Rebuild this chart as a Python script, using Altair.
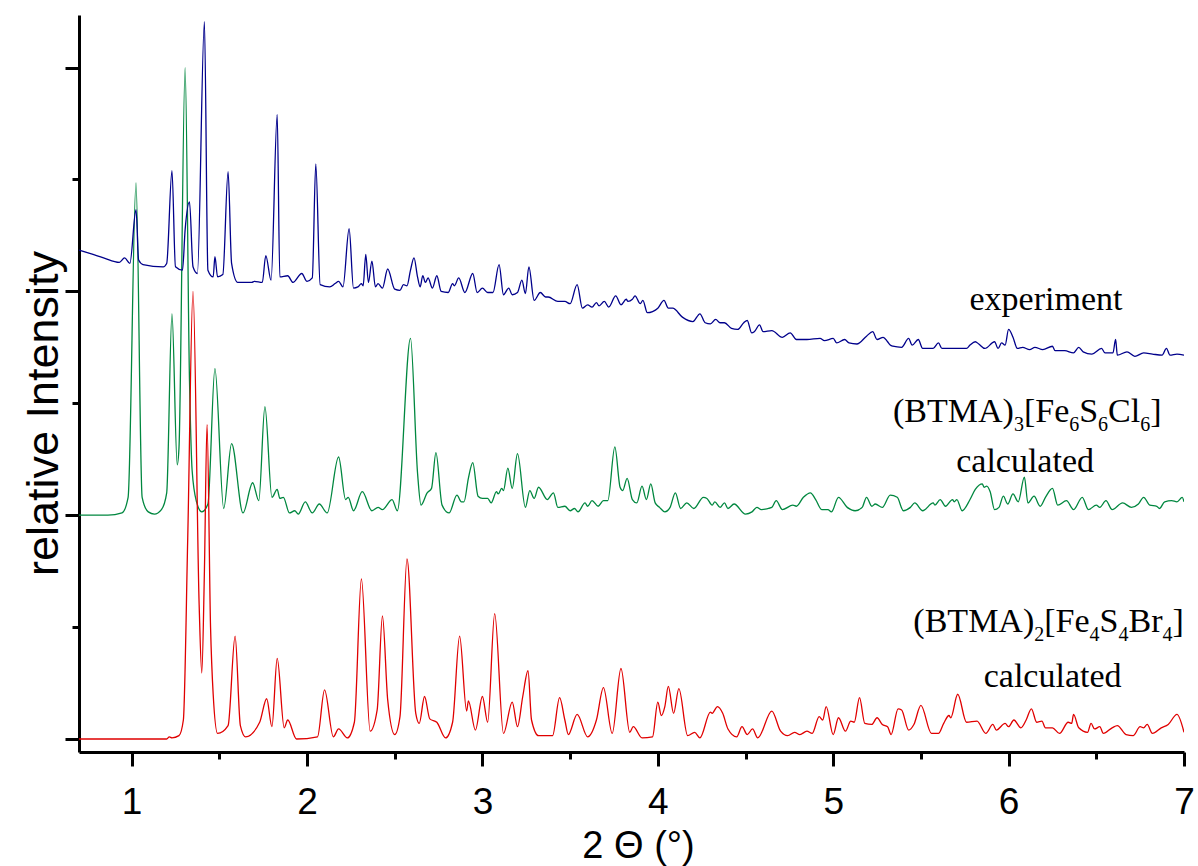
import altair as alt
import pandas as pd

# ---------------- data (2-theta in degrees, stacked relative intensity) ----------------
experiment_pts = [(0.70,4.37),(0.78,4.33),(0.84,4.30),(0.93,4.26),(0.96,4.30),(0.99,4.25),(1.025,4.73),(1.04,4.28),(1.065,4.24),(1.18,4.22),(1.20,4.25),(1.23,5.08),(1.25,4.22),(1.29,4.19),(1.305,4.55),(1.33,4.80),(1.35,4.22),(1.375,4.16),(1.415,6.41),(1.435,4.19),(1.465,4.13),(1.475,4.31),(1.49,4.13),(1.52,4.15),(1.55,5.07),(1.57,4.25),(1.605,4.08),(1.685,4.08),(1.70,4.09),(1.745,4.08),(1.765,4.32),(1.795,4.10),(1.83,5.58),(1.845,4.13),(1.89,4.14),(1.92,4.08),(1.97,4.16),(2.00,4.09),(2.03,4.12),(2.05,5.14),(2.075,4.06),(2.13,4.04),(2.16,4.07),(2.18,4.09),(2.205,4.04),(2.24,4.56),(2.265,4.03),(2.29,4.04),(2.31,4.07),(2.32,4.05),(2.335,4.33),(2.35,4.08),(2.37,4.27),(2.39,4.04),(2.405,4.07),(2.43,4.03),(2.46,4.20),(2.50,4.02),(2.53,4.01),(2.55,4.06),(2.57,4.05),(2.59,4.19),(2.61,4.30),(2.63,4.13),(2.645,4.04),(2.66,4.14),(2.675,4.08),(2.69,4.12),(2.715,4.03),(2.74,4.14),(2.765,4.00),(2.805,3.99),(2.83,4.07),(2.84,4.05),(2.865,4.12),(2.90,3.99),(2.945,4.16),(2.97,3.99),(3.00,4.03),(3.03,3.99),(3.06,3.99),(3.095,4.24),(3.12,3.97),(3.15,4.03),(3.17,3.97),(3.20,3.99),(3.225,4.10),(3.245,3.98),(3.265,4.22),(3.295,3.92),(3.33,3.99),(3.36,3.95),(3.375,3.95),(3.43,3.91),(3.47,3.91),(3.50,3.89),(3.54,4.06),(3.57,3.85),(3.60,3.88),(3.625,3.86),(3.65,3.90),(3.665,3.87),(3.695,3.91),(3.72,3.86),(3.76,3.96),(3.79,3.88),(3.82,3.93),(3.83,3.91),(3.855,3.93),(3.87,3.96),(3.90,3.89),(3.915,3.92),(3.94,3.81),(3.97,3.82),(4.00,3.85),(4.035,3.92),(4.06,3.85),(4.085,3.85),(4.14,3.77),(4.20,3.73),(4.24,3.80),(4.27,3.72),(4.30,3.71),(4.33,3.75),(4.355,3.72),(4.38,3.72),(4.42,3.67),(4.455,3.66),(4.49,3.72),(4.51,3.74),(4.535,3.63),(4.55,3.64),(4.58,3.70),(4.60,3.64),(4.65,3.65),(4.71,3.59),(4.755,3.63),(4.79,3.57),(4.85,3.57),(4.925,3.58),(4.95,3.56),(5.00,3.58),(5.02,3.54),(5.065,3.57),(5.09,3.54),(5.135,3.53),(5.19,3.60),(5.225,3.64),(5.25,3.57),(5.285,3.59),(5.31,3.55),(5.325,3.52),(5.34,3.51),(5.39,3.50),(5.43,3.58),(5.45,3.52),(5.485,3.57),(5.51,3.49),(5.57,3.49),(5.60,3.54),(5.62,3.49),(5.68,3.49),(5.76,3.49),(5.78,3.52),(5.81,3.55),(5.83,3.53),(5.865,3.49),(5.92,3.55),(5.94,3.49),(5.96,3.54),(5.98,3.52),(6.00,3.66),(6.025,3.59),(6.05,3.49),(6.08,3.50),(6.12,3.48),(6.15,3.50),(6.195,3.48),(6.25,3.51),(6.265,3.47),(6.32,3.47),(6.37,3.45),(6.40,3.50),(6.425,3.46),(6.475,3.44),(6.53,3.49),(6.55,3.45),(6.595,3.45),(6.61,3.57),(6.62,3.43),(6.675,3.46),(6.72,3.42),(6.77,3.45),(6.82,3.44),(6.875,3.43),(6.90,3.49),(6.92,3.43),(6.96,3.44),(7.00,3.43)]

fe6_pts = [(0.70,2.00),(0.865,2.00),(0.945,2.02),(0.98,2.16),(1.025,4.97),(1.06,2.16),(1.095,2.03),(1.13,2.01),(1.17,2.05),(1.20,2.20),(1.23,3.80),(1.26,2.45),(1.27,2.60),(1.305,6.00),(1.33,3.20),(1.345,2.40),(1.37,2.12),(1.40,2.03),(1.435,2.10),(1.475,3.31),(1.525,2.06),(1.57,2.64),(1.635,2.02),(1.69,2.29),(1.725,2.13),(1.76,2.97),(1.80,2.16),(1.83,2.23),(1.845,2.15),(1.865,2.16),(1.90,2.02),(1.93,2.04),(1.95,2.01),(1.99,2.12),(2.03,2.02),(2.07,2.10),(2.115,2.02),(2.18,2.52),(2.22,2.14),(2.235,2.16),(2.265,2.04),(2.315,2.21),(2.37,2.04),(2.405,2.07),(2.43,2.05),(2.485,2.14),(2.515,2.04),(2.59,3.58),(2.63,2.38),(2.65,2.09),(2.685,2.20),(2.71,2.24),(2.735,2.56),(2.77,2.09),(2.81,2.02),(2.855,2.18),(2.88,2.12),(2.895,2.12),(2.92,2.33),(2.945,2.47),(2.975,2.17),(3.00,2.15),(3.03,2.15),(3.05,2.11),(3.08,2.21),(3.09,2.19),(3.11,2.24),(3.12,2.22),(3.145,2.42),(3.17,2.24),(3.20,2.55),(3.245,2.07),(3.27,2.22),(3.295,2.15),(3.32,2.25),(3.37,2.14),(3.405,2.20),(3.43,2.07),(3.47,2.08),(3.50,2.04),(3.525,2.06),(3.545,2.03),(3.585,2.11),(3.60,2.08),(3.625,2.13),(3.66,2.08),(3.69,2.13),(3.715,2.13),(3.755,2.61),(3.785,2.25),(3.80,2.22),(3.825,2.33),(3.855,2.14),(3.88,2.11),(3.91,2.26),(3.935,2.14),(3.96,2.28),(3.985,2.11),(4.01,2.07),(4.04,2.03),(4.07,2.07),(4.10,2.20),(4.13,2.06),(4.165,2.11),(4.205,2.06),(4.26,2.16),(4.28,2.15),(4.31,2.09),(4.325,2.12),(4.355,2.07),(4.38,2.11),(4.40,2.06),(4.435,2.10),(4.50,2.01),(4.537,2.03),(4.565,2.07),(4.59,2.05),(4.65,2.07),(4.675,2.13),(4.71,2.05),(4.77,2.09),(4.79,2.08),(4.83,2.16),(4.87,2.20),(4.90,2.14),(4.935,2.05),(4.97,2.05),(4.99,2.03),(5.03,2.16),(5.08,2.07),(5.125,2.04),(5.165,2.07),(5.19,2.16),(5.22,2.08),(5.24,2.10),(5.28,2.07),(5.325,2.18),(5.365,2.16),(5.40,2.04),(5.44,2.07),(5.465,2.11),(5.51,2.04),(5.57,2.11),(5.58,2.09),(5.61,2.14),(5.64,2.08),(5.68,2.14),(5.69,2.12),(5.705,2.14),(5.735,2.04),(5.78,2.14),(5.81,2.23),(5.85,2.28),(5.86,2.25),(5.875,2.26),(5.895,2.21),(5.92,2.05),(5.945,2.07),(5.97,2.17),(5.995,2.10),(6.025,2.19),(6.055,2.12),(6.09,2.34),(6.11,2.11),(6.145,2.17),(6.18,2.08),(6.21,2.16),(6.25,2.24),(6.28,2.09),(6.33,2.13),(6.37,2.05),(6.42,2.16),(6.455,2.05),(6.50,2.09),(6.52,2.07),(6.555,2.13),(6.59,2.05),(6.65,2.11),(6.70,2.07),(6.74,2.10),(6.77,2.16),(6.805,2.09),(6.845,2.08),(6.86,2.06),(6.89,2.12),(6.93,2.13),(6.96,2.12),(6.99,2.16),(7.00,2.12)]

fe4_pts = [(0.70,0.00),(1.20,0.00),(1.215,0.02),(1.23,0.01),(1.27,0.03),(1.295,0.17),(1.32,1.80),(1.35,4.00),(1.385,1.20),(1.40,0.59),(1.415,1.50),(1.43,2.81),(1.45,1.00),(1.465,0.40),(1.49,0.05),(1.55,0.12),(1.59,0.92),(1.62,0.12),(1.65,0.02),(1.73,0.15),(1.77,0.36),(1.80,0.11),(1.83,0.72),(1.87,0.10),(1.89,0.17),(1.94,0.00),(2.06,0.02),(2.10,0.44),(2.15,0.02),(2.18,0.09),(2.23,0.01),(2.27,0.15),(2.31,1.43),(2.36,0.07),(2.40,0.26),(2.43,1.10),(2.46,0.35),(2.50,0.04),(2.53,0.20),(2.57,1.61),(2.62,0.23),(2.64,0.14),(2.67,0.38),(2.70,0.18),(2.74,0.15),(2.79,0.01),(2.83,0.15),(2.87,0.92),(2.91,0.25),(2.92,0.34),(2.96,0.08),(3.00,0.38),(3.03,0.15),(3.07,1.12),(3.12,0.05),(3.17,0.33),(3.20,0.11),(3.23,0.38),(3.26,0.61),(3.28,0.17),(3.32,0.03),(3.40,0.03),(3.44,0.37),(3.47,0.17),(3.49,0.04),(3.54,0.22),(3.60,0.02),(3.65,0.17),(3.69,0.46),(3.74,0.05),(3.79,0.63),(3.84,0.06),(3.86,0.11),(3.91,0.01),(3.97,0.02),(4.00,0.33),(4.02,0.21),(4.04,0.29),(4.06,0.47),(4.09,0.23),(4.12,0.45),(4.17,0.03),(4.21,0.06),(4.24,0.01),(4.30,0.24),(4.31,0.23),(4.34,0.29),(4.37,0.23),(4.40,0.09),(4.45,0.02),(4.48,0.11),(4.51,0.04),(4.54,0.09),(4.57,0.01),(4.65,0.25),(4.70,0.07),(4.74,0.03),(4.78,0.06),(4.81,0.04),(4.85,0.07),(4.88,0.05),(4.92,0.20),(4.94,0.17),(4.96,0.29),(5.00,0.04),(5.03,0.19),(5.07,0.07),(5.10,0.16),(5.12,0.15),(5.15,0.37),(5.18,0.14),(5.22,0.13),(5.25,0.19),(5.28,0.13),(5.31,0.11),(5.33,0.04),(5.37,0.27),(5.39,0.26),(5.43,0.08),(5.46,0.13),(5.50,0.30),(5.56,0.05),(5.60,0.05),(5.63,0.14),(5.66,0.21),(5.67,0.19),(5.71,0.40),(5.76,0.15),(5.82,0.16),(5.87,0.05),(5.91,0.13),(5.93,0.08),(5.98,0.14),(6.00,0.11),(6.03,0.17),(6.07,0.10),(6.10,0.17),(6.13,0.27),(6.16,0.15),(6.19,0.16),(6.21,0.10),(6.25,0.10),(6.29,0.05),(6.34,0.15),(6.36,0.14),(6.37,0.22),(6.40,0.10),(6.45,0.06),(6.47,0.14),(6.49,0.09),(6.52,0.11),(6.54,0.05),(6.59,0.10),(6.62,0.12),(6.67,0.04),(6.71,0.03),(6.75,0.11),(6.77,0.10),(6.79,0.13),(6.82,0.05),(6.87,0.10),(6.91,0.13),(6.96,0.22),(7.00,0.06)]

series_names = ["experiment", "Fe6S6Cl6 calc", "Fe4S4Br4 calc"]
series_colors = ["#00008B", "#00873F", "#E00000"]

x_domain = [0.7, 7.0]
y_domain = [-0.116, 6.47]
x_major = [1, 2, 3, 4, 5, 6, 7]
x_minor = [1.5, 2.5, 3.5, 4.5, 5.5, 6.5]
y_major = [0, 2, 4, 6]
y_minor = [1, 3, 5]

word_labels = ["experiment", "calculated", "calculated"]
word_x = [6.213, 6.094, 6.251]
word_y = [3.834, 2.389, 0.467]

formula_cl = [("(BTMA)", False), ("3", True), ("[Fe", False), ("6", True), ("S", False),
              ("6", True), ("Cl", False), ("6", True), ("]", False)]
formula_br = [("(BTMA)", False), ("2", True), ("[Fe", False), ("4", True), ("S", False),
              ("4", True), ("Br", False), ("4", True), ("]", False)]
formula_anchor_x = [5.341, 5.457]
formula_anchor_y = [2.833, 0.959]

# ---------------- build ----------------
def frame(points, name):
    return pd.DataFrame({"two_theta": [p[0] for p in points],
                         "intensity": [p[1] for p in points],
                         "series": name})

data = pd.concat([frame(experiment_pts, series_names[0]),
                  frame(fe6_pts, series_names[1]),
                  frame(fe4_pts, series_names[2])], ignore_index=True)

x_scale = alt.Scale(domain=x_domain, nice=False, zero=False)
y_scale = alt.Scale(domain=y_domain, nice=False, zero=False)
color_scale = alt.Scale(domain=series_names, range=series_colors)

SANS = "Liberation Sans"
SERIF = "Liberation Serif"
common = dict(grid=False, domainColor="black", tickColor="black", domainWidth=3, tickWidth=3)

x_major_axis = alt.Axis(values=x_major, orient="bottom", tickSize=14, format="d",
                        labelFont=SANS, labelFontSize=37, labelColor="black",
                        labelBaseline="alphabetic", labelPadding=47, labelFlush=False,
                        labelOverlap=False,
                        title="2 Θ (°)", titleFont=SANS, titleFontSize=38,
                        titleFontWeight="normal", titleColor="black",
                        titleX=559, titleY=105, titleAlign="center",
                        titleBaseline="alphabetic", **common)
x_minor_axis = alt.Axis(values=x_minor, orient="bottom", tickSize=7, labels=False,
                        domain=False, title=None, grid=False, tickColor="black", tickWidth=3)
y_major_axis = alt.Axis(values=y_major, orient="left", tickSize=14, labels=False,
                        title="relative Intensity", titleFont=SANS, titleFontSize=45,
                        titleFontWeight="normal", titleColor="black", titleAngle=270,
                        titleX=-22, titleY=398, titleAlign="center",
                        titleBaseline="alphabetic", **common)
y_minor_axis = alt.Axis(values=y_minor, orient="left", tickSize=7, labels=False,
                        domain=False, title=None, grid=False, tickColor="black", tickWidth=3)

base = alt.Chart(data)

def line(name, xaxis, yaxis):
    return base.transform_filter(alt.datum.series == name).mark_line(
        strokeWidth=1.3, clip=True, interpolate="monotone").encode(
        x=alt.X("two_theta:Q", scale=x_scale, axis=xaxis),
        y=alt.Y("intensity:Q", scale=y_scale, axis=yaxis),
        color=alt.Color("series:N", scale=color_scale, legend=None))

green = line(series_names[1], x_minor_axis, y_minor_axis)
red = line(series_names[2], None, None)
blue = line(series_names[0], x_major_axis, y_major_axis)

words = alt.Chart(pd.DataFrame({"x": word_x, "y": word_y, "t": word_labels})).mark_text(
    align="center", baseline="alphabetic", font=SERIF, fontSize=34, color="black").encode(
    x=alt.X("x:Q", scale=x_scale, axis=None),
    y=alt.Y("y:Q", scale=y_scale, axis=None),
    text="t:N")

TIMES_W = {"(": 0.333, ")": 0.333, "B": 0.667, "T": 0.611, "M": 0.889, "A": 0.722,
           "[": 0.333, "]": 0.333, "F": 0.556, "e": 0.444, "S": 0.556, "C": 0.667,
           "l": 0.278, "r": 0.333}
MAIN, SUB = 34, 20

def formula_layers(pieces, ax, ay):
    layers = []
    off = 0.0
    for txt, is_sub in pieces:
        size = SUB if is_sub else MAIN
        kw = dict(align="left", baseline="alphabetic", font=SERIF, fontSize=size,
                  color="black")
        if off > 0:
            kw["dx"] = round(off, 1)
        if is_sub:
            kw["dy"] = 9
        layers.append(alt.Chart(pd.DataFrame({"x": [ax], "y": [ay], "t": [txt]})).mark_text(**kw).encode(
            x=alt.X("x:Q", scale=x_scale, axis=None),
            y=alt.Y("y:Q", scale=y_scale, axis=None),
            text="t:N"))
        off += sum(TIMES_W.get(c, 0.5) for c in txt) * size
    return layers

text_layers = (formula_layers(formula_cl, formula_anchor_x[0], formula_anchor_y[0]) +
               formula_layers(formula_br, formula_anchor_x[1], formula_anchor_y[1]))

chart = alt.layer(green, red, blue, words, *text_layers).resolve_axis(
    x="independent", y="independent").properties(
    width=1105, height=737,
    padding={"left": 79, "top": 15, "right": 14, "bottom": 114},
    autosize=alt.AutoSizeParams(type="none"),
    background="white").configure_view(stroke="transparent")

chart.save("out.html", embed_options={"renderer": "svg", "actions": False})
